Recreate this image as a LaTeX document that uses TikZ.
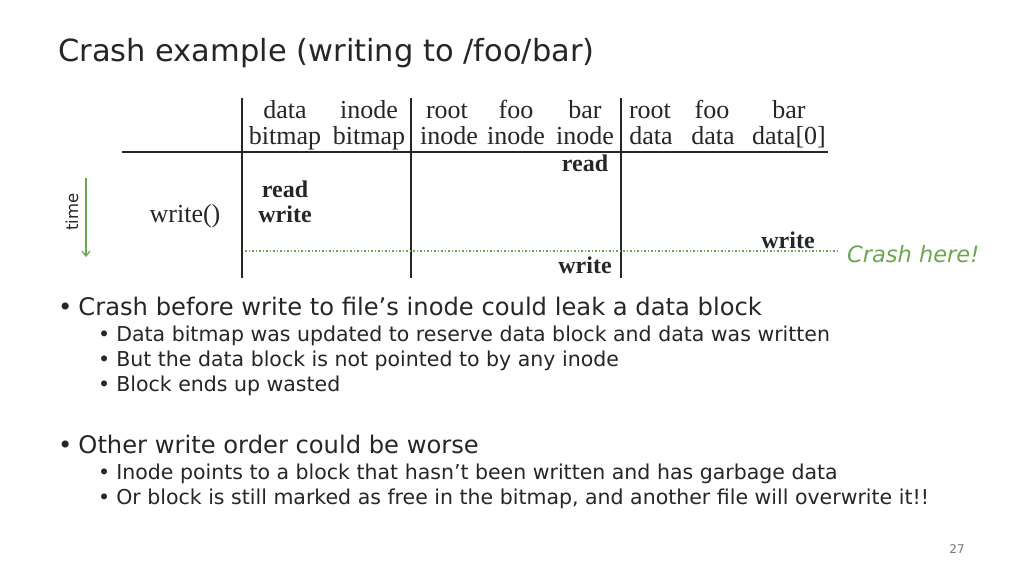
\documentclass[tikz,border=0pt]{standalone}
\usepackage{fontspec}
\setmainfont{DejaVu Sans}
\newfontfamily\tblfont{Liberation Serif}
\usetikzlibrary{arrows.meta}
\definecolor{txt}{RGB}{38,38,38}
\definecolor{grn}{RGB}{106,168,79}
\definecolor{pg}{RGB}{118,118,118}
\tikzset{
  title/.style={anchor=base west,inner sep=0pt,text=txt,font=\fontsize{30.5}{36}\selectfont},
  hdr/.style={anchor=base,inner sep=0pt,text=txt,font=\tblfont\fontsize{26}{30}\selectfont},
  op/.style={anchor=base,inner sep=0pt,text=txt,font=\tblfont\bfseries\fontsize{24}{28}\selectfont},
  grid/.style={draw=txt,line width=1.6pt},
  lvlone/.style={anchor=base west,inner sep=0pt,text=txt,font=\fontsize{24.2}{28}\selectfont},
  lvltwo/.style={anchor=base west,inner sep=0pt,text=txt,font=\fontsize{20.5}{24}\selectfont},
}
\begin{document}
\begin{tikzpicture}[x=1pt,y=-1pt]
\useasboundingbox[fill=white] (0,0) rectangle (1024,576);
\node[title] (t) at (58,61) {Crash example (writing to /foo/bar)};
% table lines
\coordinate (hl) at (122,152); \coordinate (hr) at (828,152);
\draw[grid] (hl) -- (hr);
\coordinate (v1t) at (242,98); \coordinate (v1b) at (242,278);
\coordinate (v2t) at (411,98); \coordinate (v2b) at (411,278);
\coordinate (v3t) at (621,98); \coordinate (v3b) at (621,278);
\draw[grid] (v1t) -- (v1b);
\draw[grid] (v2t) -- (v2b);
\draw[grid] (v3t) -- (v3b);
% headers
\node[hdr] (h1a) at (285,118) {data};   \node[hdr] (h1b) at (285,144) {bitmap};
\node[hdr] (h2a) at (369,118) {inode};  \node[hdr] (h2b) at (369,144) {bitmap};
\node[hdr] (h3a) at (447,118) {root};   \node[hdr] (h3b) at (449,144) {inode};
\node[hdr] (h4a) at (516,118) {foo};    \node[hdr] (h4b) at (516,144) {inode};
\node[hdr] (h5a) at (585,118) {bar};    \node[hdr] (h5b) at (585,144) {inode};
\node[hdr] (h6a) at (650,118) {root};   \node[hdr] (h6b) at (651,144) {data};
\node[hdr] (h7a) at (712,118) {foo};    \node[hdr] (h7b) at (713,144) {data};
\node[hdr] (h8a) at (789,118) {bar};    \node[hdr] (h8b) at (789,144) {data[0]};
% operations
\node[op] (r1) at (585,171) {read};
\node[op] (r2) at (285,197) {read};
\node[op] (w1) at (285,222) {write};
\node[hdr] (wc) at (185,222) {write()};
\node[op] (w2) at (788,248) {write};
\node[op] (w3) at (585,273) {write};
% crash line
\coordinate (cl) at (245,251); \coordinate (cr) at (838,251);
\draw[grn,line width=1.5pt,dash pattern=on 1.5pt off 2pt] (cl) -- (cr);
\node[anchor=base west,inner sep=0pt,text=grn,font=\itshape\fontsize{22.5}{27}\selectfont] (crash) at (847,262) {Crash here!};
% time arrow
\coordinate (ta) at (86,178); \coordinate (tb) at (86,257);
\draw[grn,line width=1.2pt,-{Straight Barb[length=5pt,width=8pt]}] (ta) -- (tb);
\node[rotate=90,inner sep=0pt,text=txt,font=\fontsize{16.5}{18}\selectfont] (time) at (72,212) {time};
% bullets
\node[lvlone] (b1) at (58,315) {•\hspace{6pt}Crash before write to file’s inode could leak a data block};
\node[lvltwo] (b11) at (98,341) {•\hspace{6pt}Data bitmap was updated to reserve data block and data was written};
\node[lvltwo] (b12) at (98,366) {•\hspace{6pt}But the data block is not pointed to by any inode};
\node[lvltwo] (b13) at (98,391) {•\hspace{6pt}Block ends up wasted};
\node[lvlone] (b2) at (58,453) {•\hspace{6pt}Other write order could be worse};
\node[lvltwo] (b21) at (98,479) {•\hspace{6pt}Inode points to a block that hasn’t been written and has garbage data};
\node[lvltwo] (b22) at (98,504) {•\hspace{6pt}Or block is still marked as free in the bitmap, and another file will overwrite it!!};
\node[inner sep=0pt,text=pg,font=\fontsize{12}{14}\selectfont] (pn) at (957,549) {27};
\end{tikzpicture}
\end{document}
